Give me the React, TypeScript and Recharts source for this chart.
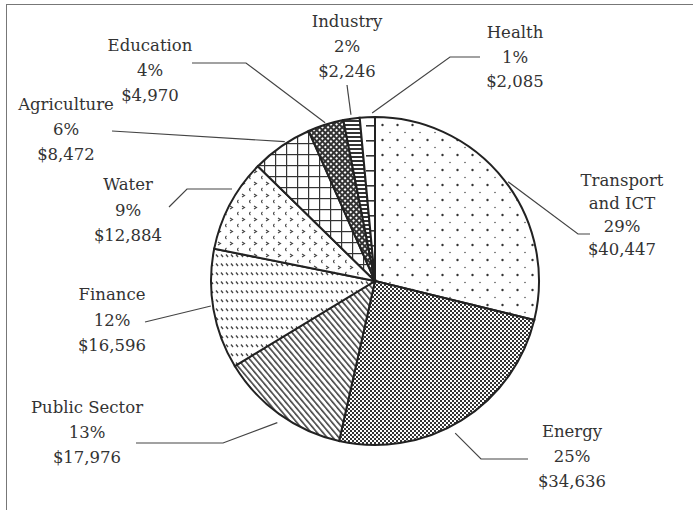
import { PieChart, Pie, Cell } from 'recharts';

const sectors = ['Transport and ICT', 'Energy', 'Public Sector', 'Finance', 'Water', 'Agriculture', 'Education', 'Industry', 'Health'];
const amounts = [40447, 34636, 17976, 16596, 12884, 8472, 4970, 2246, 2085];
// how each sector name is wrapped in its callout
const nameLines = [['Transport', 'and ICT'], ['Energy'], ['Public Sector'], ['Finance'], ['Water'], ['Agriculture'], ['Education'], ['Industry'], ['Health']];
const fills = ['dots', 'check', 'diag', 'dashes', 'marks', 'grid', 'diamond', 'hlines', 'ticks'];

const total = amounts.reduce((a, b) => a + b, 0);
const rows = sectors.map((name, i) => ({ name, value: amounts[i] }));

const INK = '#333';
const FONT = '"DejaVu Serif", "Noto Serif", serif';

// callout placement: text centre / first baseline / line height, and the leader line's bends
type Callout = { tx: number; ty: number; lh: number; turn: number; gap: number; path: [number, number][] };
const callouts: Callout[] = [
    { tx: 622, ty: 186, lh: 23, turn: -1.4, gap: 2, path: [[578, 234], [590, 234]] },
    { tx: 572, ty: 437, lh: 25, turn: -4, gap: 8, path: [[481, 459], [528, 459]] },
    { tx: 87, ty: 413, lh: 25, turn: 1.1, gap: 8, path: [[223, 443], [136, 443]] },
    { tx: 112, ty: 300, lh: 25.5, turn: -1.3, gap: 2, path: [[145, 322]] },
    { tx: 128, ty: 190, lh: 25.5, turn: -4.9, gap: 6, path: [[187, 189], [169, 207]] },
    { tx: 66, ty: 110, lh: 25, turn: -1.8, gap: 2, path: [[112, 131]] },
    { tx: 150, ty: 51, lh: 25, turn: 0, gap: 2, path: [[246, 63], [192, 63]] },
    { tx: 347, ty: 27, lh: 25, turn: 0, gap: 4, path: [[347, 85]] },
    { tx: 515, ty: 38, lh: 24.5, turn: -1.7, gap: 4, path: [[450, 57], [480, 57]] },
];

const RAD = Math.PI / 180;

const renderCallout = (props: any) => {
    const { cx, cy, midAngle, outerRadius, index } = props;
    const c = callouts[index];
    const a = (midAngle + c.turn) * RAD;
    const r = outerRadius + c.gap;
    const sx = cx + r * Math.cos(a);
    const sy = cy - r * Math.sin(a);
    const pts = [[sx, sy], ...c.path].map((p) => p.join(',')).join(' ');
    const lines = [...nameLines[index], `${Math.round((amounts[index] / total) * 100)}%`, `$${amounts[index].toLocaleString('en-US')}`];

    return (
        <g key={`callout-${index}`}>
            <polyline points={pts} fill="none" stroke="#444" strokeWidth={1.2} />
            <text x={c.tx} y={c.ty} textAnchor="middle" fill={INK} style={{ fontFamily: FONT, fontSize: 16.5 }}>
                {lines.map((t, i) => (
                    <tspan key={i} x={c.tx} dy={i === 0 ? 0 : c.lh}>{t}</tspan>
                ))}
            </text>
        </g>
    );
};

export default function App() {
    return (
        <div style={{ position: 'absolute', left: 0, top: 0, width: 693, height: 510, overflow: 'hidden', background: '#fff', fontFamily: FONT }}>
            <div style={{ position: 'absolute', left: 6, top: 4, width: 720, height: 540, borderLeft: '1.5px solid #777', borderTop: '1.5px solid #777' }} />
            <div style={{ position: 'absolute', left: 0, top: 0 }}>
                <PieChart width={693} height={510} margin={{ top: 0, right: 0, bottom: 0, left: 0 }}>
                    <defs>
                        <pattern id="pt-dots" patternUnits="userSpaceOnUse" width={15} height={15}>
                            <rect width={15} height={15} fill="#fff" />
                            <circle cx={7.5} cy={5} r={1.2} fill={INK} />
                            <circle cx={0} cy={12.5} r={0.7} fill={INK} />
                            <circle cx={15} cy={12.5} r={0.7} fill={INK} />
                        </pattern>
                        <pattern id="pt-check" patternUnits="userSpaceOnUse" width={4} height={4}>
                            <rect width={4} height={4} fill="#fff" />
                            <rect width={2} height={2} fill="#333" />
                            <rect x={2} y={2} width={2} height={2} fill="#333" />
                        </pattern>
                        <pattern id="pt-diag" patternUnits="userSpaceOnUse" width={4.5} height={4.5} patternTransform="rotate(-40)">
                            <rect width={4.5} height={4.5} fill="#fff" />
                            <rect width={1.6} height={4.5} fill="#444" />
                        </pattern>
                        <pattern id="pt-dashes" patternUnits="userSpaceOnUse" width={5} height={9}>
                            <rect width={5} height={9} fill="#fff" />
                            <path d="M1 2.5 L3 5" stroke="#444" strokeWidth={1.3} />
                        </pattern>
                        <pattern id="pt-marks" patternUnits="userSpaceOnUse" width={12} height={12}>
                            <rect width={12} height={12} fill="#fff" />
                            <path d="M2 2 L4.5 3.5 L2 5" fill="none" stroke="#444" strokeWidth={1.1} />
                            <path d="M10.5 8 Q8.5 9.5 10.5 11" fill="none" stroke="#444" strokeWidth={1.1} />
                        </pattern>
                        <pattern id="pt-grid" patternUnits="userSpaceOnUse" width={11} height={11}>
                            <rect width={11} height={11} fill="#fff" />
                            <rect width={1.2} height={11} fill={INK} />
                            <rect width={11} height={1.2} fill={INK} />
                        </pattern>
                        <pattern id="pt-diamond" patternUnits="userSpaceOnUse" width={4} height={4} patternTransform="rotate(45)">
                            <rect width={4} height={4} fill={INK} />
                            <rect x={1} y={1} width={2} height={2} fill="#fff" />
                        </pattern>
                        <pattern id="pt-hlines" patternUnits="userSpaceOnUse" width={4} height={4}>
                            <rect width={4} height={4} fill="#fff" />
                            <rect width={4} height={2} fill={INK} />
                        </pattern>
                        <pattern id="pt-ticks" patternUnits="userSpaceOnUse" width={40} height={15}>
                            <rect width={40} height={15} fill="#fff" />
                            <rect x={6} y={5} width={8} height={1.6} fill={INK} />
                        </pattern>
                    </defs>
                    <Pie
                        data={rows}
                        dataKey="value"
                        nameKey="name"
                        cx={375}
                        cy={281}
                        outerRadius={164}
                        startAngle={90}
                        endAngle={-270}
                        stroke="#222"
                        strokeWidth={2}
                        label={renderCallout}
                        labelLine={false}
                        isAnimationActive={false}
                    >
                        {rows.map((row, i) => <Cell key={row.name} fill={`url(#pt-${fills[i]})`} />)}
                    </Pie>
                </PieChart>
            </div>
        </div>
    );
}
